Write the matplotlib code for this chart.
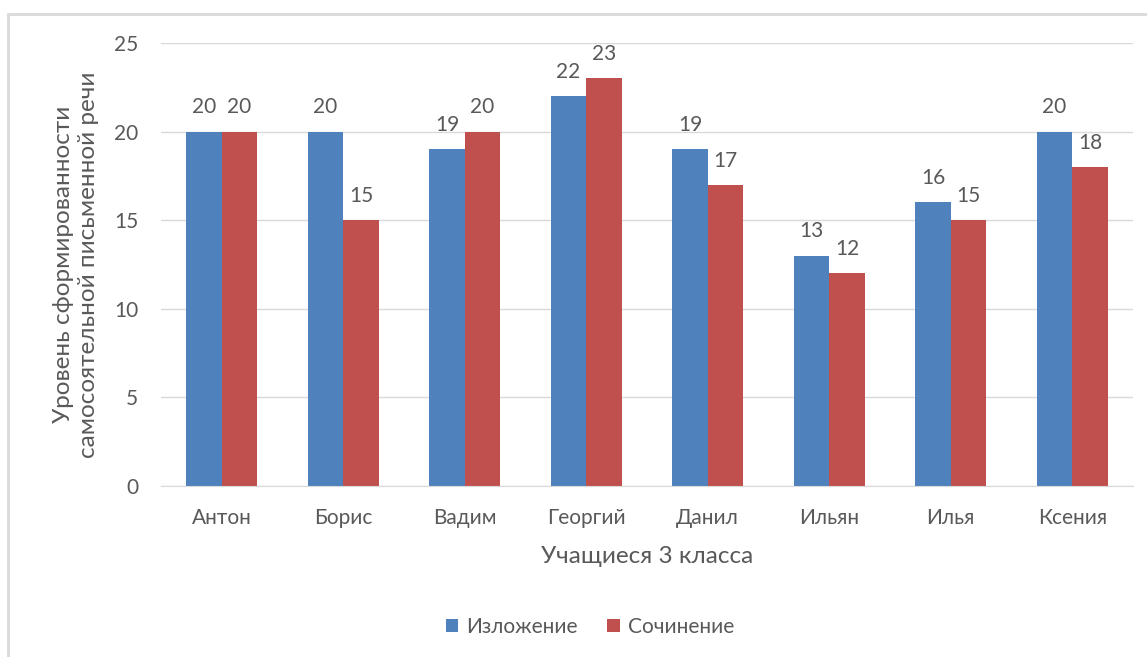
import matplotlib.pyplot as plt
import numpy as np

# Scores per pupil for the two written tasks
students = ['Антон', 'Борис', 'Вадим', 'Георгий', 'Данил', 'Ильян', 'Илья', 'Ксения']
izlozhenie = [20, 20, 19, 22, 19, 13, 16, 20]
sochinenie = [20, 15, 20, 23, 17, 12, 15, 18]

BLUE = '#4f81bd'
RED = '#c0504d'
TEXT = '#595959'

plt.rcParams['font.family'] = ['Lato', 'DejaVu Sans']

fig = plt.figure(figsize=(11.47, 6.57), dpi=100)
ax = fig.add_axes([161 / 1147, 1 - 486 / 657, (1133 - 161) / 1147, (486 - 43) / 657])

# light frame around the whole chart
frame = plt.Rectangle((8 / 1147, -0.01), 1.1, 1 - 14 / 657 + 0.01, transform=fig.transFigure,
                      fill=False, edgecolor='#d9d9d9', linewidth=2)
fig.add_artist(frame)

x = np.arange(len(students))
w = 0.292
b1 = ax.bar(x - w / 2, izlozhenie, w, color=BLUE, label='Изложение')
b2 = ax.bar(x + w / 2, sochinenie, w, color=RED, label='Сочинение')

for bars in (b1, b2):
    for rect in bars:
        h = rect.get_height()
        ax.text(rect.get_x() + rect.get_width() / 2, h + 0.8, f'{h:.0f}',
                ha='center', va='bottom', fontsize=15, color=TEXT)

ax.set_xlim(-0.5, len(students) - 0.5)
ax.set_ylim(0, 25)
ax.set_yticks(range(0, 26, 5))
ax.yaxis.grid(True, color='#d9d9d9', linewidth=1)
ax.set_axisbelow(True)
for side in ['top', 'right', 'left']:
    ax.spines[side].set_visible(False)
ax.spines['bottom'].set_color('#d9d9d9')
ax.tick_params(axis='both', length=0, labelsize=15, labelcolor=TEXT)
ax.tick_params(axis='x', pad=16)
ax.tick_params(axis='y', pad=16.5)
ax.set_xticks(x)
ax.set_xticklabels(students)

ax.set_xlabel('Учащиеся 3 класса', fontsize=17.5, color=TEXT, labelpad=13)
ax.set_ylabel('Уровень сформированности\nсамосоятельной письменной речи',
              fontsize=17.5, color=TEXT, labelpad=11, linespacing=1.2)

fig.legend(handles=[b1, b2], loc='center', bbox_to_anchor=(590 / 1147, 1 - 627 / 657),
           ncol=2, frameon=False, fontsize=15, labelcolor=TEXT,
           handlelength=0.6, handleheight=0.6, columnspacing=1.4, handletextpad=0.4)

fig.savefig('out.png', dpi=100, facecolor='white')
